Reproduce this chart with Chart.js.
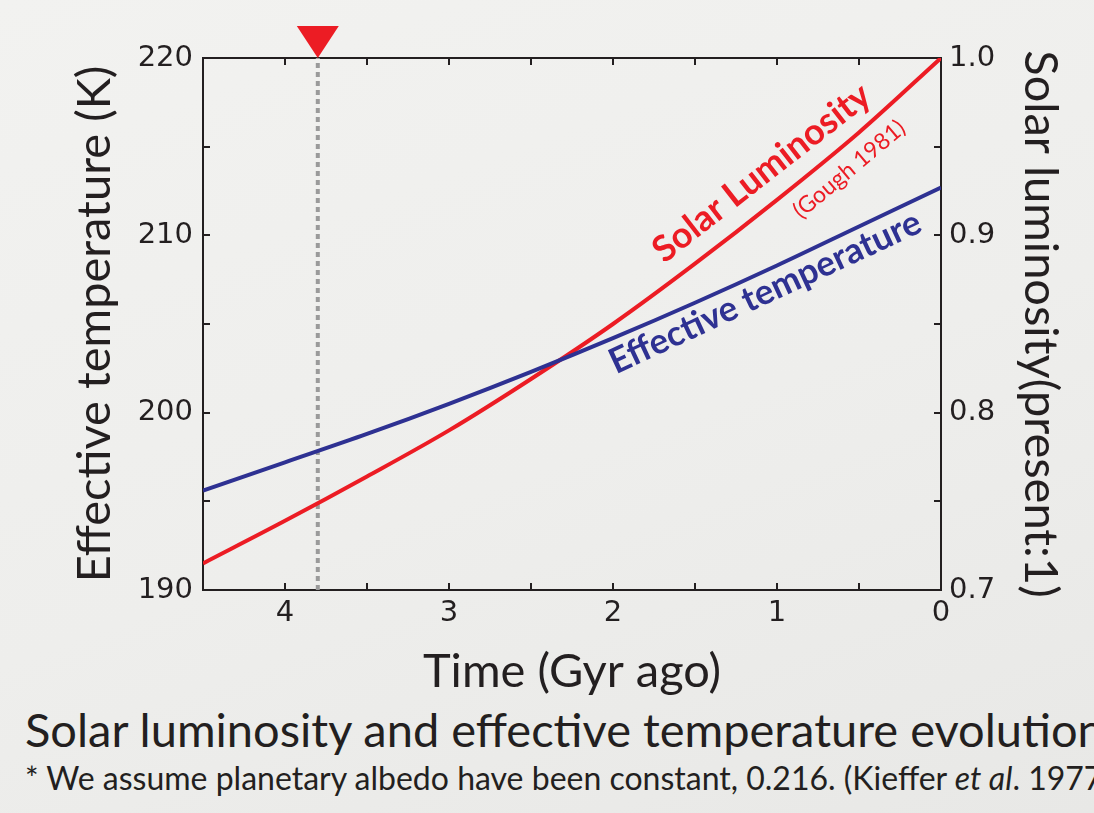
<!DOCTYPE html>
<html>
<head>
<meta charset="utf-8">
<script src="https://cdn.jsdelivr.net/npm/chart.js@4.4.1/dist/chart.umd.min.js"></script>
<style>
  html, body { margin: 0; padding: 0; width: 1094px; height: 813px; overflow: hidden; }
  body { background: linear-gradient(160deg, #f2f2f0 0%, #eeeeec 55%, #e8e8e6 100%); color: #231f20; position: relative; }
  #wrap { position: absolute; left: 0; top: 0; width: 1094px; height: 700px; }
  .cap { position: absolute; left: 25px; white-space: nowrap; font-family: Lato, sans-serif; }
  #cap1 { top: 701px; font-size: 47px; }
  #cap2 { top: 758px; font-size: 32px; }
</style>
</head>
<body>
<div id="wrap"><canvas id="chart" width="1094" height="700"></canvas></div>
<div class="cap" id="cap1">Solar luminosity and effective temperature evolution</div>
<div class="cap" id="cap2">* We assume planetary albedo have been constant, 0.216. (Kieffer <i>et al</i>. 1977)</div>
<script>
// time before present (Gyr) and the two curves
const ageGyr = [4.5, 4.0, 3.5, 3.0, 2.5, 2.0, 1.5, 1.0, 0.5, 0.0];
const luminosity = [0.715, 0.739, 0.764, 0.790, 0.819, 0.850, 0.884, 0.920, 0.958, 1.000];
const effTemp = [195.6, 197.2, 198.8, 200.5, 202.3, 204.2, 206.2, 208.3, 210.5, 212.7];
const markerAge = 3.8;
const tempRange = [190, 220];
const lumRange = [0.7, 1.0];

const ink = '#231f20';
const red = '#ec1c24';
const blue = '#2e3192';
const tickFont = { family: "'DejaVu Sans', sans-serif", size: 29 };
const titleFont = { family: "Lato, sans-serif", size: 47 };

const toPoints = (xs, ys) => xs.map((x, i) => ({ x: x, y: ys[i] }));

// rotated labels placed in data coordinates (baseline midpoint)
const annotations = [
    { text: 'Solar Luminosity', x: 1.05, y: 0.930, axis: 'y1', angle: -38, font: "bold 36px Lato, sans-serif", color: red },
    { text: '(Gough 1981)', x: 0.53, y: 0.934, axis: 'y1', angle: -40, font: "23px Lato, sans-serif", color: red },
    { text: 'Effective temperature', x: 1.043, y: 206.2, axis: 'y', angle: -25, font: "bold 35px Lato, sans-serif", color: blue }
];

const framePlugin = {
    id: 'frame',
    beforeDatasetsDraw(chart) {
        const { ctx, chartArea: a, scales } = chart;
        ctx.save();
        ctx.strokeStyle = ink;
        ctx.lineWidth = 2;
        ctx.beginPath();
        ctx.moveTo(a.left - 1, a.top);
        ctx.lineTo(a.right + 1, a.top);
        const len = 7;
        scales.x.ticks.forEach(t => {
            const px = Math.round(scales.x.getPixelForValue(t.value));
            if (px <= a.left + 2 || px >= a.right - 2) return;
            ctx.moveTo(px, a.bottom); ctx.lineTo(px, a.bottom - len);
            ctx.moveTo(px, a.top); ctx.lineTo(px, a.top + len);
        });
        scales.y.ticks.forEach(t => {
            const py = Math.round(scales.y.getPixelForValue(t.value));
            if (py <= a.top + 2 || py >= a.bottom - 2) return;
            ctx.moveTo(a.left, py); ctx.lineTo(a.left + len, py);
        });
        scales.y1.ticks.forEach(t => {
            const py = Math.round(scales.y1.getPixelForValue(t.value));
            if (py <= a.top + 2 || py >= a.bottom - 2) return;
            ctx.moveTo(a.right, py); ctx.lineTo(a.right - len, py);
        });
        ctx.stroke();
        ctx.restore();
    },
    afterDatasetsDraw(chart) {
        const { ctx, chartArea: a, scales } = chart;
        ctx.save();
        // red marker above the dotted line
        const px = scales.x.getPixelForValue(markerAge);
        ctx.fillStyle = red;
        ctx.beginPath();
        ctx.moveTo(px, a.top);
        ctx.lineTo(px - 21, a.top - 32);
        ctx.lineTo(px + 21, a.top - 32);
        ctx.closePath();
        ctx.fill();

        annotations.forEach(n => {
            const x = scales.x.getPixelForValue(n.x);
            const y = scales[n.axis].getPixelForValue(n.y);
            ctx.save();
            ctx.translate(x, y);
            ctx.rotate(n.angle * Math.PI / 180);
            ctx.font = n.font;
            ctx.fillStyle = n.color;
            ctx.textAlign = 'center';
            ctx.textBaseline = 'alphabetic';
            ctx.fillText(n.text, 0, 0);
            ctx.restore();
        });
        ctx.restore();
    }
};

new Chart(document.getElementById('chart'), {
    type: 'line',
    data: {
        datasets: [
            {
                label: 'Solar luminosity',
                data: toPoints(ageGyr, luminosity),
                yAxisID: 'y1',
                borderColor: red,
                borderWidth: 4,
                pointRadius: 0,
                cubicInterpolationMode: 'monotone',
                order: 1
            },
            {
                label: 'Effective temperature',
                data: toPoints(ageGyr, effTemp),
                yAxisID: 'y',
                borderColor: blue,
                borderWidth: 4,
                pointRadius: 0,
                cubicInterpolationMode: 'monotone',
                order: 0
            },
            {
                label: 'marker',
                data: [{ x: markerAge, y: tempRange[0] }, { x: markerAge, y: tempRange[1] }],
                yAxisID: 'y',
                borderColor: '#9a9a9a',
                borderWidth: 4,
                borderDash: [5, 4],
                borderCapStyle: 'butt',
                pointRadius: 0,
                order: 5
            }
        ]
    },
    options: {
        responsive: false,
        animation: false,
        layout: { padding: { top: 58, left: 0, right: 0, bottom: 0 } },
        plugins: { legend: { display: false }, tooltip: { enabled: false } },
        scales: {
            x: {
                type: 'linear',
                reverse: true,
                min: 0,
                max: 4.5,
                afterFit: s => { s.height = 110; },
                grid: { display: false, drawTicks: false },
                border: { display: true, color: ink, width: 2 },
                ticks: {
                    stepSize: 0.5,
                    autoSkip: false,
                    maxRotation: 0,
                    padding: 6,
                    color: ink,
                    font: tickFont,
                    callback: v => Number.isInteger(v) ? String(v) : ''
                },
                title: { display: true, text: 'Time (Gyr ago)', color: ink, font: titleFont, padding: { top: 0, bottom: 0 } }
            },
            y: {
                position: 'left',
                min: tempRange[0],
                max: tempRange[1],
                afterFit: s => { s.width = 203; },
                grid: { display: false, drawTicks: false },
                border: { display: true, color: ink, width: 2 },
                ticks: {
                    stepSize: 5,
                    padding: 10,
                    color: ink,
                    font: tickFont,
                    callback: v => v % 10 === 0 ? String(v) : ''
                },
                title: { display: true, text: 'Effective temperature (K)', color: ink, font: titleFont, padding: { top: 67, bottom: 0 } }
            },
            y1: {
                position: 'right',
                min: lumRange[0],
                max: lumRange[1],
                afterFit: s => { s.width = 153; },
                grid: { display: false, drawTicks: false },
                border: { display: true, color: ink, width: 2 },
                ticks: {
                    stepSize: 0.05,
                    padding: 8,
                    color: ink,
                    font: tickFont,
                    callback: v => Math.abs(v * 10 - Math.round(v * 10)) < 1e-6 ? v.toFixed(1) : ''
                },
                title: { display: true, text: 'Solar luminosity(present:1)', color: ink, font: titleFont, padding: { top: 26, bottom: 0 } }
            }
        }
    },
    plugins: [framePlugin]
});
</script>
</body>
</html>
